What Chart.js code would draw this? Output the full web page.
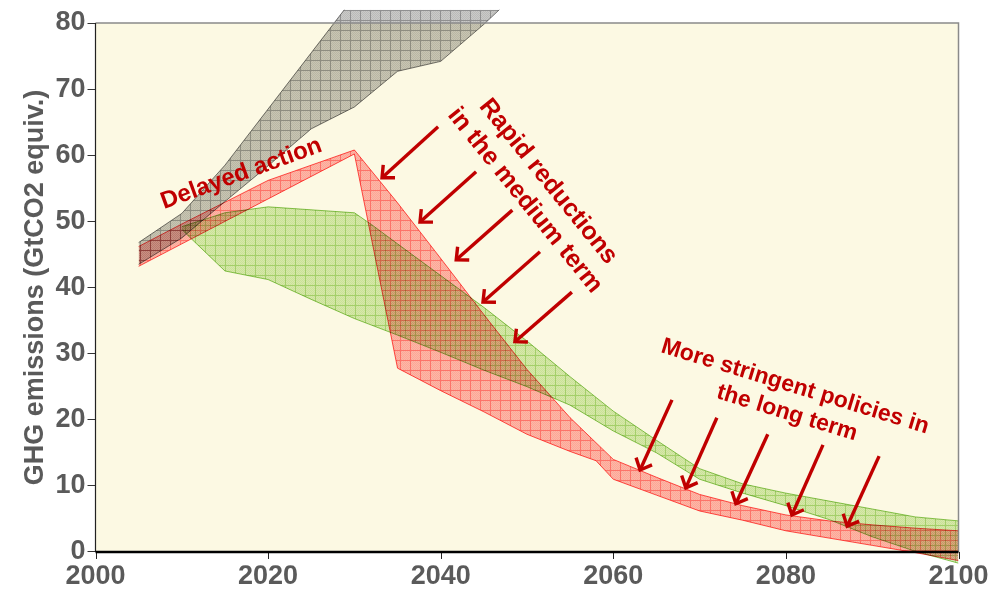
<!DOCTYPE html>
<html>
<head>
<meta charset="utf-8">
<script src="https://cdn.jsdelivr.net/npm/chart.js@4/dist/chart.umd.min.js"></script>
<style>
  html, body { margin: 0; padding: 0; background: #ffffff; }
  #wrap { width: 1006px; height: 590px; }
</style>
</head>
<body>
<div id="wrap"><canvas id="c" width="1006" height="590"></canvas></div>
<script>
// GHG emission ranges (GtCO2-eq per year): upper and lower edge of each band
const baselineYears = [2005, 2010, 2015, 2020, 2025, 2030, 2035, 2040, 2045, 2050];
const baselineHigh  = [46.8, 51.2, 58.5, 67.0, 75.5, 84.0, 91.0, 98.0, 104.0, 110.0];
const baselineLow   = [43.5, 47.5, 53.0, 58.4, 64.0, 67.3, 72.7, 74.2, 79.8, 86.0];

const earlyHighYears = [2010, 2015, 2020, 2030, 2032, 2035, 2040, 2045, 2050, 2055, 2060, 2065, 2070, 2075, 2080, 2085, 2090, 2095, 2100];
const earlyHigh      = [49.2, 51.3, 52.2, 51.3, 49.5, 46.6, 41.8, 37.0, 31.9, 26.5, 21.3, 16.9, 12.6, 10.3, 8.9, 7.7, 6.5, 5.3, 4.7];
const earlyLowYears  = [2010, 2011, 2015, 2020, 2025, 2030, 2035, 2040, 2045, 2050, 2055, 2060, 2065, 2070, 2075, 2080, 2085, 2090, 2095, 2100];
const earlyLow       = [48.8, 47.5, 42.5, 41.2, 38.2, 35.3, 32.8, 30.2, 27.5, 25.0, 22.2, 18.3, 15.0, 11.0, 8.9, 7.0, 4.9, 2.3, 0.1, -1.7];

const delayedHighYears = [2005, 2010, 2020, 2030, 2035, 2040, 2045, 2050, 2055, 2060, 2065, 2070, 2075, 2080, 2085, 2090, 2095, 2100];
const delayedHigh      = [46.2, 49.6, 56.2, 60.8, 52.8, 44.4, 35.9, 27.6, 20.3, 14.0, 11.3, 8.7, 7.0, 5.6, 4.7, 4.1, 3.6, 3.2];
const delayedLowYears  = [2005, 2010, 2020, 2030, 2035, 2040, 2045, 2050, 2055, 2058, 2060, 2065, 2070, 2075, 2080, 2085, 2090, 2095, 2100];
const delayedLow       = [43.2, 46.6, 53.4, 60.2, 27.8, 24.4, 21.2, 17.8, 15.2, 13.8, 11.0, 8.6, 6.2, 4.8, 3.2, 2.1, 1.0, -0.1, -1.3];

// Axis ticks
const xTicks = [2000, 2020, 2040, 2060, 2080, 2100];
const yTicks = [0, 10, 20, 30, 40, 50, 60, 70, 80];

// Annotation arrows (year, value) for tail and head
const midTailYear = [2039.7, 2044.1, 2048.3, 2051.5, 2055.2];
const midTailVal  = [64.3, 57.5, 51.7, 45.4, 39.3];
const midHeadYear = [2033.2, 2037.6, 2041.8, 2044.9, 2048.6];
const midHeadVal  = [56.6, 49.9, 44.2, 37.8, 31.8];

const longTailYear = [2066.8, 2072.0, 2077.9, 2084.3, 2090.8];
const longTailVal  = [23.0, 20.3, 17.8, 16.2, 14.5];
const longHeadYear = [2063.1, 2068.4, 2074.2, 2080.7, 2087.1];
const longHeadVal  = [12.4, 9.7, 7.3, 5.6, 3.9];

// Annotation texts
const delayedText = ['Delayed action'];
const rapidText = ['Rapid reductions', 'in the medium term'];
const longText = ['More stringent policies in', 'the long term'];

const FONT = '"Liberation Sans", Arial, Helvetica, sans-serif';
const RED = '#c00000';

const canvas = document.getElementById('c');
const ctx0 = canvas.getContext('2d');

// Cross-hatched fill: light base, fine dither, darker grid every 10 px
function hatch(base, dot, line, shift) {
  const t = document.createElement('canvas');
  t.width = 10; t.height = 10;
  const g = t.getContext('2d');
  g.fillStyle = base; g.fillRect(0, 0, 10, 10);
  g.fillStyle = dot;
  for (let yy = 0; yy < 10; yy++) for (let xx = 0; xx < 10; xx++) {
    if ((xx + yy) % 2 === 0) g.fillRect(xx, yy, 1, 1);
  }
  g.fillStyle = line;
  g.fillRect(0, shift, 10, 1);
  g.fillRect(shift, 0, 1, 10);
  return ctx0.createPattern(t, 'repeat');
}

const greyFill  = hatch('#cacac8', '#bbbbb9', '#909090', 0);
const greenFill = hatch('#d9eebf', '#cce6ab', '#a6d477', 5);
const redFill   = hatch('#ffbcbc', '#ffaaaa', '#ff7676', 0);

const pts = (xs, ys) => xs.map((x, i) => ({ x, y: ys[i] }));

function edge(label, data, color, fillTarget, fillColor) {
  return {
    label, data,
    borderColor: color, borderWidth: 1,
    backgroundColor: fillColor || 'transparent',
    fill: fillTarget, pointRadius: 0, tension: 0
  };
}

function drawArrow(ctx, x1, y1, x2, y2) {
  const a = Math.atan2(y2 - y1, x2 - x1);
  const len = 13, spread = 0.74;
  ctx.beginPath();
  ctx.moveTo(x1, y1);
  ctx.lineTo(x2, y2);
  ctx.stroke();
  ctx.beginPath();
  ctx.moveTo(x2 - len * Math.cos(a - spread), y2 - len * Math.sin(a - spread));
  ctx.lineTo(x2, y2);
  ctx.lineTo(x2 - len * Math.cos(a + spread), y2 - len * Math.sin(a + spread));
  ctx.stroke();
}

function drawLabel(ctx, lines, cx, cy, deg, size, sx) {
  ctx.save();
  ctx.translate(cx, cy);
  ctx.rotate(deg * Math.PI / 180);
  ctx.scale(sx, 1);
  ctx.font = 'bold ' + size + 'px ' + FONT;
  ctx.fillStyle = RED;
  ctx.textAlign = 'center';
  ctx.textBaseline = 'middle';
  const lh = size * 1.2;
  lines.forEach((t, i) => ctx.fillText(t, 0, (i - (lines.length - 1) / 2) * lh));
  ctx.restore();
}

const framePlugin = {
  id: 'frame',
  beforeDraw(chart) {
    const { ctx, scales: { x, y } } = chart;
    // overlapping translucent bands darken each other
    ctx.globalCompositeOperation = 'multiply';
    const l = x.getPixelForValue(2000), r = x.getPixelForValue(2100);
    const t = y.getPixelForValue(80), b = y.getPixelForValue(0);
    ctx.save();
    ctx.globalCompositeOperation = 'source-over';
    ctx.fillStyle = '#fcf9e3';
    ctx.fillRect(l, t, r - l, b - t);
    ctx.restore();
  },
  afterDatasetsDraw(chart) {
    const { ctx, scales: { x, y } } = chart;
    const l = x.getPixelForValue(2000), r = x.getPixelForValue(2100);
    const t = y.getPixelForValue(80), b = y.getPixelForValue(0);
    ctx.save();
    ctx.globalCompositeOperation = 'source-over';
    ctx.lineCap = 'butt';
    // top and right frame
    ctx.strokeStyle = '#8a8a8a'; ctx.lineWidth = 1.5;
    ctx.beginPath(); ctx.moveTo(l, t); ctx.lineTo(r, t); ctx.lineTo(r, b); ctx.stroke();
    // left axis
    ctx.strokeStyle = '#222222'; ctx.lineWidth = 1.2;
    ctx.beginPath(); ctx.moveTo(l, t); ctx.lineTo(l, b); ctx.stroke();
    // x tick marks
    ctx.lineWidth = 1;
    x.ticks.forEach(tk => {
      const px = Math.round(x.getPixelForValue(tk.value)) + 0.5;
      ctx.beginPath(); ctx.moveTo(px, b); ctx.lineTo(px, b + 7); ctx.stroke();
    });
    // bottom axis
    ctx.strokeStyle = '#000000'; ctx.lineWidth = 2.4;
    ctx.beginPath(); ctx.moveTo(l, b); ctx.lineTo(r, b); ctx.stroke();

    // arrows
    ctx.strokeStyle = RED; ctx.lineWidth = 3.4; ctx.lineJoin = 'miter';
    midTailYear.forEach((yr, i) => drawArrow(ctx,
      x.getPixelForValue(yr), y.getPixelForValue(midTailVal[i]),
      x.getPixelForValue(midHeadYear[i]), y.getPixelForValue(midHeadVal[i])));
    longTailYear.forEach((yr, i) => drawArrow(ctx,
      x.getPixelForValue(yr), y.getPixelForValue(longTailVal[i]),
      x.getPixelForValue(longHeadYear[i]), y.getPixelForValue(longHeadVal[i])));

    // texts
    drawLabel(ctx, delayedText, x.getPixelForValue(2016.9), y.getPixelForValue(57.2), -20, 24, 1);
    drawLabel(ctx, rapidText, x.getPixelForValue(2051.1), y.getPixelForValue(54.6), 51, 25, 1);
    drawLabel(ctx, longText, x.getPixelForValue(2080.6), y.getPixelForValue(23.0), 17, 23, 1);
    ctx.restore();
  }
};

const tickFont = { family: FONT, size: 27, weight: 'bold' };

new Chart(canvas, {
  type: 'line',
  data: {
    datasets: [
      edge('Delayed action, upper', pts(delayedHighYears, delayedHigh), '#ff5050', '+1', redFill),
      edge('Delayed action, lower', pts(delayedLowYears, delayedLow), '#ff5050', false),
      edge('Baseline, upper', pts(baselineYears, baselineHigh), '#7a7a7a', '+1', greyFill),
      edge('Baseline, lower', pts(baselineYears, baselineLow), '#7a7a7a', false),
      edge('Early action, upper', pts(earlyHighYears, earlyHigh), '#8fca5a', '+1', greenFill),
      edge('Early action, lower', pts(earlyLowYears, earlyLow), '#8fca5a', false)
    ]
  },
  options: {
    responsive: false,
    devicePixelRatio: 1,
    animation: false,
    events: [],
    layout: { padding: { top: 9.8, right: 47.5, left: 0, bottom: 0 } },
    plugins: { legend: { display: false }, tooltip: { enabled: false } },
    scales: {
      x: {
        type: 'linear', min: 2000, max: 2100,
        afterBuildTicks: s => { s.ticks = xTicks.map(v => ({ value: v })); },
        afterFit: s => { s.height = 24.8; s.paddingLeft = 0; s.paddingRight = 0; },
        grid: { display: false, drawTicks: false },
        border: { display: false },
        ticks: { font: tickFont, color: '#5a5a5a', padding: -5, maxRotation: 0, autoSkip: false,
                 callback: v => String(v) }
      },
      y: {
        type: 'linear', min: -2, max: 82,
        afterBuildTicks: s => { s.ticks = yTicks.map(v => ({ value: v })); },
        afterFit: s => { s.width = 95.5; s.paddingTop = 0; s.paddingBottom = 0; },
        grid: { display: true, drawOnChartArea: false, drawTicks: true, tickLength: 8,
                color: '#333333', lineWidth: 1 },
        border: { display: false },
        ticks: { font: tickFont, color: '#5a5a5a', padding: 2, callback: v => String(v) },
        title: { display: true, text: 'GHG emissions (GtCO2 equiv.)', color: '#5a5a5a',
                 font: { family: FONT, size: 27, weight: 'bold' }, padding: { top: 19, bottom: 0 } }
      }
    }
  },
  plugins: [framePlugin]
});
</script>
</body>
</html>
